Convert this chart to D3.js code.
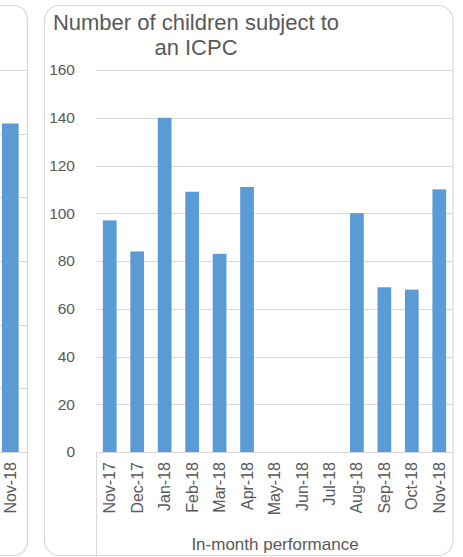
<!DOCTYPE html>
<html>
<head>
<meta charset="utf-8">
<script src="https://cdn.jsdelivr.net/npm/d3@7"></script>
<style>
  html, body { margin: 0; padding: 0; background: #fff; }
  svg { display: block; }
</style>
</head>
<body>
<svg id="chart" width="463" height="557"></svg>
<script>
// ---- data ----
const months = ["Nov-17","Dec-17","Jan-18","Feb-18","Mar-18","Apr-18","May-18","Jun-18","Jul-18","Aug-18","Sep-18","Oct-18","Nov-18"];
const childrenICPC = [97, 84, 140, 109, 83, 111, null, null, null, 100, 69, 68, 110];
const yTicks = [0, 20, 40, 60, 80, 100, 120, 140, 160];
const titleLines = ["Number of children subject to", "an ICPC"];
const axisTitle = "In-month performance";
// neighbouring (cropped) chart on the left
const leftMonths = ["Nov-18"];
const leftValues = [258];
const leftTicks = [0, 50, 100, 150, 200, 250, 300];

const svg = d3.select("#chart");
const grid = "#d9d9d9", textCol = "#595959", barCol = "#5b9bd5";
const font = "'Liberation Sans', Arial, sans-serif";

// ---------- cropped left chart ----------
const yL = d3.scaleLinear().domain([0, 300]).range([452, 70]);
const xL = d3.scaleBand().domain(leftMonths).range([-6.5, 27]).paddingInner(0.5).paddingOuter(0.25);
svg.append("g").selectAll("line").data(leftTicks.slice(1)).join("line")
  .attr("x1", 0).attr("x2", 27).attr("y1", d => Math.round(yL(d)) + 0.5).attr("y2", d => Math.round(yL(d)) + 0.5)
  .attr("stroke", grid).attr("stroke-width", 1);
svg.append("g").selectAll("rect").data(leftValues).join("rect")
  .attr("x", (d, i) => xL(leftMonths[i])).attr("width", xL.bandwidth())
  .attr("y", d => yL(d)).attr("height", d => yL(0) - yL(d)).attr("fill", barCol);
svg.append("line").attr("x1", 0).attr("x2", 27).attr("y1", 452.5).attr("y2", 452.5).attr("stroke", grid);
svg.append("g").selectAll("text").data(leftMonths).join("text")
  .attr("transform", d => `translate(${xL(d) + xL.bandwidth()/2},462) rotate(-90)`)
  .attr("dy", "0.35em").attr("text-anchor", "end")
  .attr("font-family", font).attr("font-size", 16).attr("fill", textCol).text(d => d);
svg.append("path")
  .attr("d", "M -20 5.5 L 12 5.5 Q 27.5 5.5 27.5 21 L 27.5 540 Q 27.5 555.5 12 555.5 L -20 555.5")
  .attr("fill", "none").attr("stroke", grid).attr("stroke-width", 1.2);

// ---------- main chart ----------
svg.append("rect").attr("x", 44.5).attr("y", 5.5).attr("width", 408.5).attr("height", 550)
  .attr("rx", 15).attr("ry", 15).attr("fill", "#fff").attr("stroke", grid).attr("stroke-width", 1.2);

const x = d3.scaleBand().domain(months).range([96, 453]).paddingInner(0.5).paddingOuter(0.25);
const y = d3.scaleLinear().domain([0, 160]).range([452, 70]);

// gridlines
svg.append("g").selectAll("line").data(yTicks.slice(1)).join("line")
  .attr("x1", 96).attr("x2", 453)
  .attr("y1", d => Math.round(y(d)) + 0.5).attr("y2", d => Math.round(y(d)) + 0.5)
  .attr("stroke", grid).attr("stroke-width", 1);

// bars
svg.append("g").selectAll("rect").data(months.map((m, i) => ({m, v: childrenICPC[i]})).filter(d => d.v != null))
  .join("rect")
  .attr("x", d => x(d.m)).attr("width", x.bandwidth())
  .attr("y", d => y(d.v)).attr("height", d => y(0) - y(d.v))
  .attr("fill", barCol);

// category axis line + left divider
svg.append("line").attr("x1", 96).attr("x2", 453).attr("y1", 452.5).attr("y2", 452.5).attr("stroke", grid).attr("stroke-width", 1.2);
svg.append("line").attr("x1", 96.5).attr("x2", 96.5).attr("y1", 452).attr("y2", 557).attr("stroke", grid).attr("stroke-width", 1.2);

// y tick labels
svg.append("g").selectAll("text").data(yTicks).join("text")
  .attr("x", 75).attr("y", d => y(d)).attr("dy", "0.35em").attr("text-anchor", "end")
  .attr("font-family", font).attr("font-size", 15.5).attr("fill", textCol).text(d => d);

// x tick labels
svg.append("g").selectAll("text").data(months).join("text")
  .attr("transform", d => `translate(${x(d) + x.bandwidth()/2},462) rotate(-90)`)
  .attr("dy", "0.35em").attr("text-anchor", "end")
  .attr("font-family", font).attr("font-size", 16).attr("fill", textCol).text(d => d);

// axis title
svg.append("text").attr("x", 275).attr("y", 550).attr("text-anchor", "middle")
  .attr("font-family", font).attr("font-size", 17).attr("fill", textCol).text(axisTitle);

// chart title
svg.append("g").selectAll("text").data(titleLines).join("text")
  .attr("x", 196).attr("y", (d, i) => 30 + i * 25).attr("text-anchor", "middle")
  .attr("font-family", font).attr("font-size", 22).attr("fill", textCol).text(d => d);
</script>
</body>
</html>
